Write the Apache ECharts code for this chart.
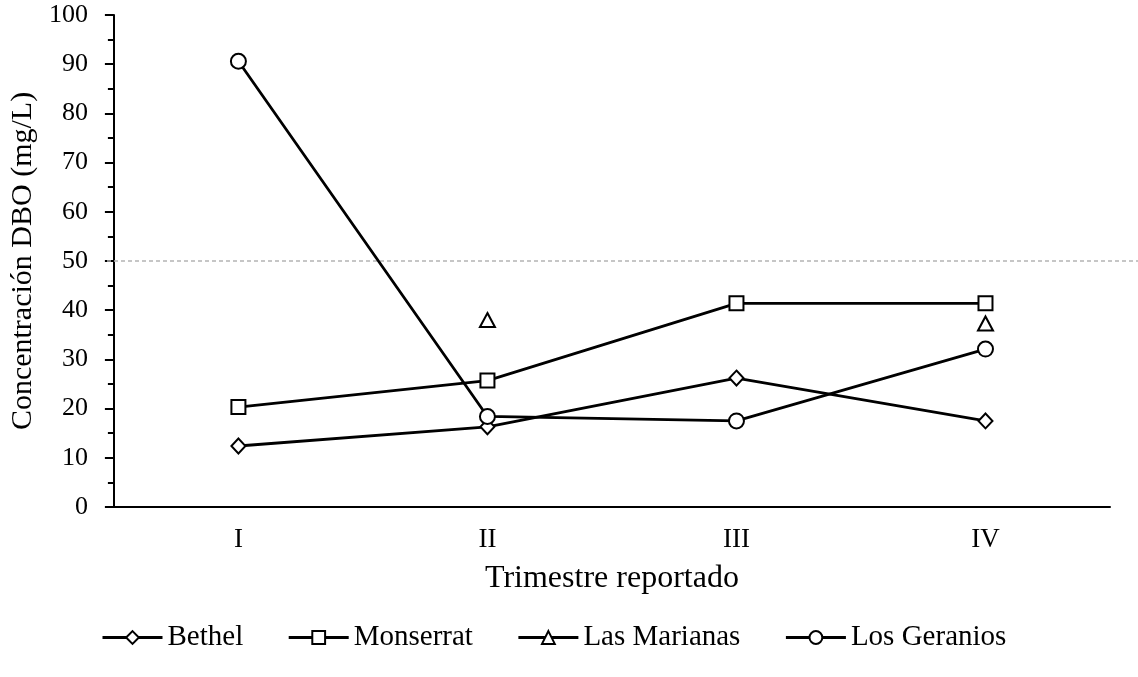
<!DOCTYPE html>
<html>
<head>
<meta charset="utf-8">
<script src="https://cdn.jsdelivr.net/npm/echarts@6/dist/echarts.min.js"></script>
<style>html,body{margin:0;padding:0;background:#fff}#c{width:1138px;height:677px}</style>
</head>
<body>
<div id="c"></div>
<script>
const categories = ['I', 'II', 'III', 'IV'];
const bethel = [12.4, 16.3, 26.2, 17.5];
const monserrat = [20.3, 25.7, 41.4, 41.4];
const lasMarianas = [null, 38.0, null, 37.3];
const losGeranios = [90.6, 18.4, 17.5, 32.1];
const limitValue = 50;
const yTicks = [0, 10, 20, 30, 40, 50, 60, 70, 80, 90, 100];

const FONT = "'Liberation Serif', 'Times New Roman', serif";
const chart = echarts.init(document.getElementById('c'), null, {renderer: 'canvas'});

function lineSeries(name, data, symbol, size) {
  return {
    name: name, type: 'line', data: data,
    xAxisIndex: 0, yAxisIndex: 0,
    symbol: symbol, symbolSize: size, showAllSymbol: true,
    connectNulls: false,
    lineStyle: {color: '#000', width: 2.8},
    itemStyle: {color: '#fff', borderColor: '#000', borderWidth: 2},
    emphasis: {disabled: true},
    z: 3
  };
}

chart.setOption({
  animation: false,
  backgroundColor: '#fff',
  textStyle: {fontFamily: FONT, color: '#000'},
  grid: [
    {left: 107, right: 28, top: 15, bottom: 170, containLabel: false},
    {left: 107, right: 0, top: 15, bottom: 170, containLabel: false}
  ],
  legend: {
    left: 96, top: 618,
    itemWidth: 60, itemHeight: 16, itemGap: 44,
    lineStyle: {width: 3},
    textStyle: {fontFamily: FONT, fontSize: 29, color: '#000', padding: [0, 0, 0, 0]},
    data: ['Bethel', 'Monserrat', 'Las Marianas', 'Los Geranios']
  },
  xAxis: [
    {
      type: 'category', data: categories, gridIndex: 0, boundaryGap: true,
      axisLine: {lineStyle: {color: '#000', width: 2}},
      axisTick: {alignWithLabel: true, length: 5, lineStyle: {color: '#000', width: 2}},
      axisLabel: {fontFamily: FONT, fontSize: 27, color: '#000', margin: 19},
      name: 'Trimestre reportado', nameLocation: 'middle', nameGap: 56,
      nameTextStyle: {fontFamily: FONT, fontSize: 32, color: '#000'}
    },
    {type: 'value', gridIndex: 1, min: 0, max: 1, show: false}
  ],
  yAxis: [
    {
      type: 'value', gridIndex: 0, min: 0, max: 100, interval: 10,
      axisLine: {show: true, lineStyle: {color: '#000', width: 2}},
      axisTick: {show: true, length: 9, lineStyle: {color: '#000', width: 2}},
      minorTick: {show: true, splitNumber: 2, length: 6, lineStyle: {color: '#000', width: 2}},
      splitLine: {show: false},
      axisLabel: {fontFamily: FONT, fontSize: 26, color: '#000', margin: 26,
        formatter: function (v) { return yTicks.indexOf(v) >= 0 ? String(v) : ''; }},
      name: 'Concentración DBO (mg/L)', nameLocation: 'middle', nameGap: 71, nameRotate: 90,
      nameTextStyle: {fontFamily: FONT, fontSize: 30, color: '#000'}
    },
    {type: 'value', gridIndex: 1, min: 0, max: 100, show: false}
  ],
  series: [
    {
      name: 'limit', type: 'line', xAxisIndex: 1, yAxisIndex: 1,
      data: [[0, limitValue], [1, limitValue]],
      symbol: 'none',
      lineStyle: {color: '#b4b4b4', width: 1.5, type: [4, 3]},
      emphasis: {disabled: true}, z: 1, silent: true
    },
    lineSeries('Bethel', bethel, 'diamond', [14, 15]),
    lineSeries('Monserrat', monserrat, 'rect', 14),
    lineSeries('Las Marianas', lasMarianas, 'triangle', [15, 14]),
    lineSeries('Los Geranios', losGeranios, 'circle', 15)
  ]
});
</script>
</body>
</html>
